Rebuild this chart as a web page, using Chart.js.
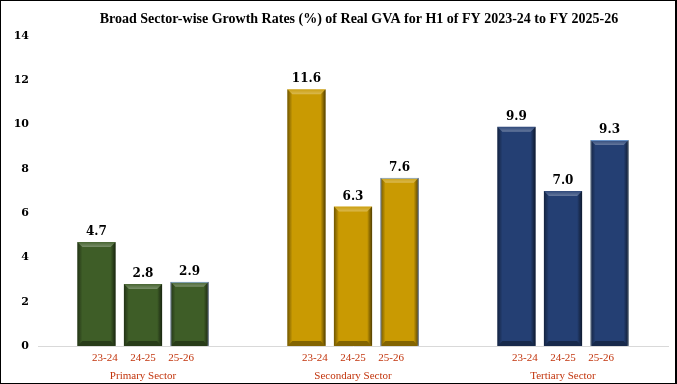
<!DOCTYPE html>
<html>
<head>
<meta charset="utf-8">
<script src="https://cdn.jsdelivr.net/npm/chart.js@4"></script>
<style>
    html, body { margin: 0; padding: 0; background: #fff; }
    #wrap { width: 677px; height: 384px; box-sizing: border-box; border: 1px solid #000; border-right-width: 2px; }
    canvas { display: block; }
</style>
</head>
<body>
<div id="wrap"><canvas id="gva-chart" width="674" height="382"></canvas></div>
<script>
// Data
const sectors = ['Primary Sector', 'Secondary Sector', 'Tertiary Sector'];
const years = ['23-24', '24-25', '25-26'];
const fy2324 = [4.7, 11.6, 9.9];
const fy2425 = [2.8, 6.3, 7.0];
const fy2526 = [2.9, 7.6, 9.3];
const yTicks = [0, 2, 4, 6, 8, 10, 12, 14];

const chartTitle = 'Broad Sector-wise Growth Rates (%) of Real GVA for H1 of FY 2023-24 to FY 2025-26';
const sectorColors = ['#3e5d27', '#c99a02', '#243f73'];
const labelRed = '#c2340c';

// Title drawn over the plot, a little right of centre like the original
const titlePlugin = {
    id: 'titleText',
    afterDraw(chart) {
        const ctx = chart.ctx;
        ctx.save();
        ctx.font = 'bold 14px "Liberation Serif"';
        ctx.fillStyle = '#000';
        ctx.textAlign = 'center';
        ctx.textBaseline = 'middle';
        ctx.fillText(chartTitle, 358, 18);
        ctx.restore();
    }
};

// Bevel shading, value labels and year labels under each bar
const bevelPlugin = {
    id: 'bevel',
    afterDatasetsDraw(chart) {
        const ctx = chart.ctx;
        const xScale = chart.scales.x;
        ctx.save();
        chart.data.datasets.forEach((ds, di) => {
            const meta = chart.getDatasetMeta(di);
            meta.data.forEach((bar, i) => {
                const p = bar.getProps(['x', 'y', 'base', 'width'], true);
                const l = p.x - p.width / 2, r = p.x + p.width / 2;
                const t = p.y, b = p.base;
                const bv = 5;

                // left edge
                let g = ctx.createLinearGradient(l, 0, l + bv, 0);
                g.addColorStop(0, 'rgba(0,0,0,0.45)');
                g.addColorStop(1, 'rgba(0,0,0,0)');
                ctx.fillStyle = g;
                ctx.beginPath();
                ctx.moveTo(l, t); ctx.lineTo(l + bv, t + bv); ctx.lineTo(l + bv, b - bv); ctx.lineTo(l, b);
                ctx.closePath(); ctx.fill();

                // right edge
                g = ctx.createLinearGradient(r - bv, 0, r, 0);
                g.addColorStop(0, 'rgba(0,0,0,0)');
                g.addColorStop(1, 'rgba(0,0,0,0.6)');
                ctx.fillStyle = g;
                ctx.beginPath();
                ctx.moveTo(r, t); ctx.lineTo(r - bv, t + bv); ctx.lineTo(r - bv, b - bv); ctx.lineTo(r, b);
                ctx.closePath(); ctx.fill();

                // top highlight
                g = ctx.createLinearGradient(0, t, 0, t + bv);
                g.addColorStop(0, 'rgba(255,255,255,0.05)');
                g.addColorStop(1, 'rgba(255,255,255,0.3)');
                ctx.fillStyle = g;
                ctx.beginPath();
                ctx.moveTo(l, t); ctx.lineTo(r, t); ctx.lineTo(r - bv, t + bv); ctx.lineTo(l + bv, t + bv);
                ctx.closePath(); ctx.fill();

                // bottom shade
                ctx.fillStyle = 'rgba(0,0,0,0.35)';
                ctx.beginPath();
                ctx.moveTo(l, b); ctx.lineTo(r, b); ctx.lineTo(r - bv, b - bv); ctx.lineTo(l + bv, b - bv);
                ctx.closePath(); ctx.fill();

                // value label
                ctx.font = 'bold 12px "DejaVu Serif"';
                ctx.fillStyle = '#000';
                ctx.textAlign = 'center';
                ctx.textBaseline = 'alphabetic';
                ctx.fillText(ds.data[i].toFixed(1), p.x, t - 7);

                // year label, a bit tighter than the bars
                const centre = xScale.getPixelForValue(i);
                ctx.font = '11px "Liberation Serif"';
                ctx.fillStyle = labelRed;
                ctx.textBaseline = 'middle';
                ctx.fillText(ds.label, centre + (p.x - centre) * 0.82, 357);
            });
        });
        ctx.restore();
    }
};

const ctx = document.getElementById('gva-chart').getContext('2d');
new Chart(ctx, {
    type: 'bar',
    data: {
        labels: sectors,
        datasets: [
            { label: years[0], data: fy2324, backgroundColor: sectorColors, borderWidth: 0 },
            { label: years[1], data: fy2425, backgroundColor: sectorColors, borderWidth: 0 },
            { label: years[2], data: fy2526, backgroundColor: sectorColors, borderColor: '#5b8ac4', borderWidth: 1 }
        ]
    },
    options: {
        responsive: false,
        animation: false,
        events: [],
        categoryPercentage: 0.665,
        barPercentage: 0.82,
        layout: { padding: { top: 35, right: 7, left: 0, bottom: 0 } },
        scales: {
            x: {
                grid: { display: false },
                border: { display: true, color: '#d9d9d9', width: 1 },
                ticks: {
                    color: labelRed,
                    font: { family: 'Liberation Serif', size: 11 },
                    padding: 16,
                    maxRotation: 0
                },
                afterFit(scale) { scale.height = 37; }
            },
            y: {
                min: 0,
                max: 14,
                afterBuildTicks(scale) { scale.ticks = yTicks.map(v => ({ value: v })); },
                grid: { display: false },
                border: { display: false },
                ticks: {
                    color: '#000',
                    font: { family: 'DejaVu Serif', size: 11, weight: 'bold' },
                    crossAlign: 'near',
                    padding: 1
                },
                afterFit(scale) { scale.width = 37; }
            }
        },
        plugins: {
            legend: { display: false },
            tooltip: { enabled: false },
            title: { display: false }
        }
    },
    plugins: [titlePlugin, bevelPlugin]
});
</script>
</body>
</html>
